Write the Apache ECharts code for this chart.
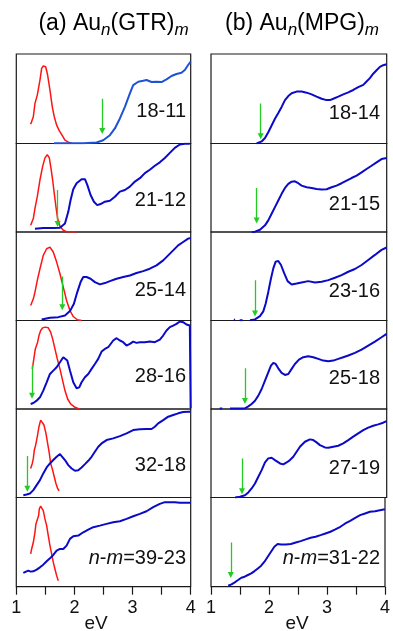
<!DOCTYPE html>
<html><head><meta charset="utf-8">
<script src="https://cdn.jsdelivr.net/npm/echarts@6/dist/echarts.min.js"></script>
<style>html,body{margin:0;padding:0;background:#fff}#c{width:393px;height:631px}</style>
</head><body><div id="c"></div>
<script>
// ---------- DATA (x in eV, y normalised within each panel 0..1) ----------
const gtrLabels = ['18-11','21-12','25-14','28-16','32-18','{i|n}-{i|m}=39-23'];
const mpgLabels = ['18-14','21-15','23-16','25-18','27-19','{i|n}-{i|m}=31-22'];
const xTicks = [1, 2, 3, 4];

// (a) Au_n(GTR)_m  absorption (blue)
const gtr18_11 = [[1.648,0.004],[1.865,0.004],[2.152,0.004],[2.381,0.011],[2.495,0.037],[2.610,0.093],[2.696,0.168],[2.782,0.280],[2.868,0.410],[2.954,0.560],[3.011,0.653],[3.097,0.690],[3.183,0.701],[3.240,0.709],[3.326,0.687],[3.412,0.690],[3.498,0.687],[3.584,0.716],[3.670,0.754],[3.755,0.776],[3.841,0.791],[3.899,0.821],[3.956,0.877],[4.0,0.914]];
const gtr21_12 = [[1.321,0.038],[1.464,0.046],[1.636,0.046],[1.751,0.049],[1.837,0.095],[1.894,0.228],[1.934,0.361],[1.980,0.483],[2.037,0.551],[2.123,0.597],[2.181,0.597],[2.221,0.532],[2.278,0.418],[2.335,0.342],[2.392,0.304],[2.450,0.316],[2.524,0.342],[2.610,0.354],[2.696,0.399],[2.782,0.456],[2.868,0.475],[2.954,0.513],[3.040,0.570],[3.126,0.608],[3.212,0.665],[3.297,0.703],[3.383,0.749],[3.469,0.787],[3.555,0.837],[3.641,0.894],[3.727,0.951],[3.813,0.989],[3.899,0.997],[3.985,0.997]];
const gtr25_14 = [[1.436,0.011],[1.579,0.030],[1.722,0.038],[1.837,0.057],[1.923,0.106],[1.991,0.189],[2.049,0.321],[2.106,0.434],[2.152,0.491],[2.209,0.491],[2.278,0.472],[2.352,0.434],[2.438,0.408],[2.524,0.423],[2.610,0.445],[2.725,0.472],[2.839,0.491],[2.954,0.509],[3.068,0.536],[3.183,0.558],[3.297,0.585],[3.412,0.623],[3.527,0.679],[3.613,0.736],[3.699,0.792],[3.784,0.849],[3.870,0.887],[3.956,0.925],[4.0,0.932]];
const gtr28_16 = [[1.247,0.057],[1.293,0.068],[1.350,0.094],[1.407,0.132],[1.464,0.208],[1.522,0.302],[1.579,0.396],[1.636,0.434],[1.694,0.472],[1.751,0.528],[1.808,0.585],[1.842,0.596],[1.877,0.547],[1.923,0.434],[1.980,0.302],[2.037,0.234],[2.083,0.245],[2.123,0.302],[2.180,0.358],[2.238,0.396],[2.295,0.453],[2.352,0.509],[2.409,0.566],[2.467,0.649],[2.524,0.679],[2.581,0.698],[2.667,0.774],[2.725,0.800],[2.782,0.774],[2.839,0.755],[2.896,0.717],[2.954,0.736],[3.011,0.762],[3.068,0.747],[3.126,0.755],[3.211,0.755],[3.297,0.762],[3.383,0.755],[3.469,0.785],[3.526,0.830],[3.584,0.887],[3.641,0.925],[3.698,0.943],[3.756,0.962],[3.813,0.989],[3.870,0.981],[3.927,0.955],[3.985,0.943],[3.999,0.943],[3.999,0.01]];
const gtr32_18 = [[1.121,0.026],[1.178,0.034],[1.235,0.045],[1.293,0.083],[1.350,0.140],[1.407,0.196],[1.464,0.272],[1.522,0.340],[1.579,0.385],[1.636,0.423],[1.694,0.460],[1.751,0.491],[1.780,0.479],[1.837,0.423],[1.894,0.366],[1.952,0.328],[2.009,0.302],[2.066,0.309],[2.123,0.340],[2.181,0.377],[2.238,0.415],[2.295,0.460],[2.352,0.517],[2.410,0.574],[2.467,0.611],[2.553,0.649],[2.667,0.668],[2.782,0.694],[2.897,0.725],[3.011,0.762],[3.126,0.770],[3.240,0.774],[3.326,0.774],[3.383,0.800],[3.441,0.838],[3.527,0.875],[3.613,0.913],[3.699,0.932],[3.785,0.951],[3.870,0.966],[3.956,0.970],[4.0,0.970]];
const gtr39_23 = [[1.121,0.154],[1.167,0.169],[1.207,0.180],[1.247,0.169],[1.293,0.172],[1.350,0.191],[1.407,0.217],[1.464,0.247],[1.522,0.285],[1.579,0.318],[1.636,0.356],[1.694,0.404],[1.751,0.423],[1.808,0.423],[1.865,0.461],[1.923,0.536],[1.980,0.566],[2.066,0.573],[2.152,0.610],[2.238,0.640],[2.324,0.667],[2.438,0.685],[2.553,0.704],[2.667,0.723],[2.782,0.734],[2.897,0.760],[3.011,0.790],[3.126,0.816],[3.240,0.846],[3.355,0.891],[3.469,0.929],[3.555,0.948],[3.641,0.948],[3.727,0.948],[3.813,0.940],[3.927,0.940],[4.0,0.940]];

// (a) photoluminescence (red)
const pl18_11 = [[1.247,0.216],[1.293,0.299],[1.321,0.448],[1.361,0.541],[1.407,0.709],[1.436,0.840],[1.464,0.866],[1.505,0.858],[1.539,0.765],[1.579,0.597],[1.619,0.410],[1.653,0.299],[1.694,0.205],[1.734,0.149],[1.762,0.131],[1.797,0.082],[1.837,0.037],[1.894,0.015],[1.951,0.004]];
const pl21_12 = [[1.247,0.076],[1.293,0.152],[1.321,0.266],[1.361,0.399],[1.407,0.589],[1.453,0.741],[1.493,0.837],[1.533,0.875],[1.568,0.837],[1.596,0.722],[1.625,0.589],[1.653,0.437],[1.682,0.285],[1.711,0.152],[1.751,0.065],[1.808,0.019],[1.865,0.004],[1.951,0.0],[2.037,0.0]];
const pl25_14 = [[1.247,0.170],[1.293,0.245],[1.321,0.321],[1.361,0.453],[1.407,0.585],[1.464,0.736],[1.522,0.811],[1.579,0.830],[1.636,0.774],[1.694,0.660],[1.751,0.528],[1.808,0.377],[1.865,0.226],[1.923,0.113],[1.980,0.045],[2.049,0.008],[2.123,0.0]];
const pl28_16 = [[1.275,0.453],[1.293,0.528],[1.310,0.604],[1.327,0.679],[1.350,0.698],[1.367,0.755],[1.390,0.830],[1.419,0.887],[1.453,0.917],[1.493,0.925],[1.550,0.917],[1.591,0.868],[1.625,0.792],[1.665,0.679],[1.705,0.566],[1.751,0.453],[1.797,0.321],[1.837,0.208],[1.883,0.113],[1.934,0.057],[2.009,0.019],[2.083,0.0]];
const pl32_18 = [[1.247,0.328],[1.275,0.385],[1.293,0.442],[1.310,0.536],[1.333,0.592],[1.361,0.687],[1.390,0.800],[1.419,0.875],[1.447,0.883],[1.476,0.819],[1.510,0.725],[1.539,0.611],[1.568,0.498],[1.591,0.385],[1.625,0.309],[1.653,0.234],[1.682,0.158],[1.711,0.102],[1.734,0.075]];
const pl39_23 = [[1.247,0.367],[1.264,0.423],[1.293,0.498],[1.321,0.610],[1.338,0.704],[1.361,0.723],[1.384,0.798],[1.396,0.873],[1.419,0.903],[1.442,0.910],[1.464,0.854],[1.493,0.760],[1.522,0.685],[1.550,0.573],[1.579,0.461],[1.608,0.367],[1.636,0.273],[1.665,0.199],[1.694,0.124],[1.722,0.067]];

// (b) Au_n(MPG)_m absorption (blue)
const mpg18_14 = [[1.779,0.0],[1.865,0.023],[1.922,0.061],[1.978,0.125],[2.035,0.201],[2.092,0.277],[2.149,0.341],[2.206,0.409],[2.263,0.485],[2.320,0.530],[2.377,0.561],[2.462,0.580],[2.547,0.580],[2.633,0.568],[2.718,0.549],[2.803,0.523],[2.889,0.500],[2.974,0.485],[3.031,0.485],[3.088,0.500],[3.173,0.523],[3.258,0.549],[3.344,0.572],[3.429,0.598],[3.514,0.629],[3.600,0.655],[3.656,0.693],[3.713,0.731],[3.770,0.780],[3.827,0.818],[3.884,0.856],[3.941,0.875],[3.998,0.886]];
const mpg21_15 = [[1.694,0.0],[1.751,0.004],[1.836,0.026],[1.922,0.075],[1.978,0.131],[2.035,0.206],[2.092,0.281],[2.149,0.356],[2.206,0.431],[2.263,0.498],[2.320,0.543],[2.377,0.569],[2.433,0.573],[2.490,0.551],[2.547,0.524],[2.633,0.506],[2.718,0.498],[2.803,0.487],[2.889,0.479],[2.974,0.483],[3.059,0.506],[3.144,0.524],[3.230,0.551],[3.315,0.581],[3.400,0.610],[3.486,0.637],[3.571,0.674],[3.656,0.712],[3.741,0.749],[3.827,0.787],[3.912,0.824],[3.998,0.835]];
const mpg23_16 = [[1.390,0.008],[1.412,0.008],[1.430,null],[1.490,0.004],[1.540,0.004],[1.600,null],[1.666,0.004],[1.751,0.012],[1.836,0.049],[1.893,0.103],[1.933,0.190],[1.978,0.323],[2.024,0.475],[2.064,0.589],[2.104,0.665],[2.149,0.673],[2.195,0.627],[2.251,0.532],[2.308,0.445],[2.377,0.407],[2.462,0.418],[2.547,0.430],[2.661,0.445],[2.775,0.430],[2.889,0.437],[3.003,0.456],[3.116,0.483],[3.230,0.513],[3.344,0.551],[3.457,0.582],[3.571,0.627],[3.685,0.684],[3.799,0.741],[3.912,0.798],[3.998,0.825]];
const mpg25_18 = [[1.150,0.005],[1.193,0.005],[1.250,null],[1.324,0.005],[1.410,0.005],[1.523,0.005],[1.580,0.008],[1.637,0.030],[1.694,0.057],[1.751,0.094],[1.808,0.151],[1.865,0.226],[1.922,0.321],[1.978,0.415],[2.024,0.491],[2.064,0.521],[2.104,0.509],[2.149,0.460],[2.206,0.408],[2.263,0.385],[2.320,0.396],[2.377,0.453],[2.433,0.509],[2.502,0.558],[2.576,0.585],[2.661,0.596],[2.746,0.585],[2.832,0.566],[2.917,0.547],[3.003,0.540],[3.088,0.547],[3.173,0.566],[3.258,0.585],[3.344,0.604],[3.457,0.634],[3.571,0.672],[3.685,0.717],[3.799,0.762],[3.912,0.811],[3.998,0.849]];
const mpg27_19 = [[1.410,0.0],[1.495,0.008],[1.580,0.026],[1.637,0.057],[1.694,0.102],[1.751,0.158],[1.808,0.234],[1.865,0.309],[1.922,0.396],[1.978,0.442],[2.035,0.449],[2.092,0.423],[2.178,0.385],[2.235,0.374],[2.291,0.396],[2.348,0.423],[2.405,0.460],[2.462,0.517],[2.519,0.574],[2.604,0.630],[2.689,0.657],[2.746,0.649],[2.803,0.623],[2.860,0.592],[2.945,0.566],[3.003,0.562],[3.088,0.574],[3.173,0.585],[3.258,0.611],[3.344,0.649],[3.429,0.687],[3.514,0.725],[3.600,0.762],[3.685,0.789],[3.770,0.811],[3.855,0.826],[3.940,0.845],[3.998,0.864]];
const mpg31_22 = [[1.296,0.011],[1.353,0.026],[1.410,0.049],[1.467,0.075],[1.523,0.101],[1.580,0.112],[1.637,0.131],[1.694,0.149],[1.751,0.175],[1.808,0.205],[1.865,0.235],[1.922,0.280],[1.978,0.336],[2.035,0.392],[2.092,0.448],[2.149,0.478],[2.206,0.474],[2.291,0.474],[2.377,0.478],[2.462,0.496],[2.547,0.511],[2.633,0.530],[2.718,0.549],[2.803,0.560],[2.889,0.578],[2.974,0.597],[3.059,0.616],[3.144,0.642],[3.230,0.672],[3.315,0.709],[3.400,0.739],[3.486,0.772],[3.571,0.802],[3.656,0.821],[3.741,0.840],[3.827,0.847],[3.912,0.858],[3.998,0.869]];

// green arrows: [eV, arrow top, arrow tip]
const gtrArrows = [[2.478,0.50,0.14],[1.711,0.475,0.09],[1.791,0.498,0.15],[1.270,0.498,0.15],[1.190,0.468,0.10],null];
const mpgArrows = [[1.848,0.447,0.08],[1.779,0.498,0.13],[1.751,0.456,0.08],[1.580,0.460,0.09],[1.529,0.442,0.07],[1.341,0.496,0.13]];

const gtrAbs = [gtr18_11, gtr21_12, gtr25_14, gtr28_16, gtr32_18, gtr39_23];
const gtrPL  = [pl18_11, pl21_12, pl25_14, pl28_16, pl32_18, pl39_23];
const mpgAbs = [mpg18_14, mpg21_15, mpg23_16, mpg25_18, mpg27_19, mpg31_22];

// ---------- LAYOUT ----------
const FONT = "'Liberation Sans', Arial, Helvetica, sans-serif";
const tops = [54, 143.5, 232, 320.5, 409, 497.5, 586.7];
const cols = [{left:16.3, width:174.4}, {left:211, width:175.7}];
const BLUE = '#0a0ac8', BLUE1 = '#1e52d6', RED = '#ff1414', GREEN = '#22cc22';

const grid = [], xAxis = [], yAxis = [], series = [], graphic = [];
const labelDy = [[57.7,57.2,58,56.2,56.7,61.2],[59.3,60.5,59.3,58.2,59.3,60.8]];
const labelRight = [186, 380];

for (let c = 0; c < 2; c++) {
  for (let r = 0; r < 6; r++) {
    const g = c * 6 + r;
    const bottom = r === 5;
    grid.push({left: cols[c].left, width: cols[c].width, top: tops[r], height: tops[r+1] - tops[r],
      show: true, borderColor: '#1a1a1a', borderWidth: 1.2, backgroundColor: 'transparent'});
    xAxis.push({type: 'value', gridIndex: g, min: 1, max: 4, interval: 0.5,
      axisLine: {show: false}, splitLine: {show: false},
      axisTick: {show: bottom, inside: false, length: 8, lineStyle: {color: '#1a1a1a', width: 1.2}},
      axisLabel: {show: bottom, margin: 12, fontSize: 18, color: '#111', fontFamily: FONT,
        formatter: v => (xTicks.indexOf(v) >= 0 ? String(v) : '')}});
    yAxis.push({type: 'value', gridIndex: g, min: 0, max: 1, show: false});

    const abs = c === 0 ? gtrAbs[r] : mpgAbs[r];
    series.push({type: 'line', xAxisIndex: g, yAxisIndex: g, data: abs, showSymbol: false, symbol: 'none',
      lineStyle: {color: (c === 0 && r === 0) ? BLUE1 : BLUE, width: 2}, animation: false, z: 3});
    if (c === 0) {
      series.push({type: 'line', xAxisIndex: g, yAxisIndex: g, data: gtrPL[r], showSymbol: false, symbol: 'none',
        lineStyle: {color: RED, width: 1.5}, animation: false, z: 2});
    }
    const ar = c === 0 ? gtrArrows[r] : mpgArrows[r];
    if (ar) {
      series.push({type: 'lines', coordinateSystem: 'cartesian2d', xAxisIndex: g, yAxisIndex: g,
        data: [{coords: [[ar[0], ar[1]], [ar[0], ar[2]]]}], symbol: ['none', 'triangle'], symbolSize: [0, 6],
        lineStyle: {color: GREEN, width: 1.3, opacity: 1}, animation: false, z: 4});
    }
    const labels = c === 0 ? gtrLabels : mpgLabels;
    graphic.push({type: 'text', x: labelRight[c], y: tops[r] + labelDy[c][r], z: 10,
      style: {text: labels[r], font: '20px ' + FONT, fill: '#111', align: 'right', verticalAlign: 'middle',
        rich: {i: {fontStyle: 'italic', fontSize: 20, fontFamily: FONT}}}});
  }
}

// titles
const titleRich = {
  m: {fontSize: 23, fontFamily: FONT, lineHeight: 30, verticalAlign: 'middle', color: '#111'},
  s: {fontSize: 17, fontFamily: FONT, fontStyle: 'italic', lineHeight: 16, verticalAlign: 'bottom', color: '#111'}
};
graphic.push({type: 'text', x: 113.5, y: 24, style: {text: '{m|(a) Au}{s|n}{m|(GTR)}{s|m}', align: 'center', verticalAlign: 'middle', rich: titleRich}});
graphic.push({type: 'text', x: 302, y: 24, style: {text: '{m|(b) Au}{s|n}{m|(MPG)}{s|m}', align: 'center', verticalAlign: 'middle', rich: titleRich}});
// axis titles
graphic.push({type: 'text', x: 96, y: 624, style: {text: 'eV', font: '19px ' + FONT, fill: '#111', align: 'center', verticalAlign: 'middle'}});
graphic.push({type: 'text', x: 297, y: 624, style: {text: 'eV', font: '19px ' + FONT, fill: '#111', align: 'center', verticalAlign: 'middle'}});

const chart = echarts.init(document.getElementById('c'));
chart.setOption({animation: false, grid, xAxis, yAxis, series, graphic});
</script>
</body></html>
